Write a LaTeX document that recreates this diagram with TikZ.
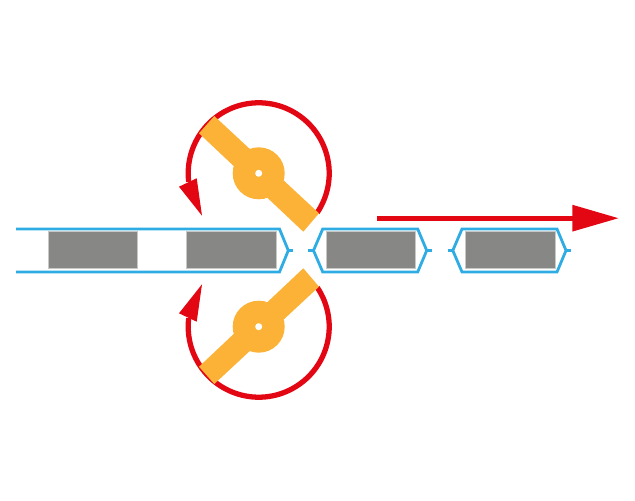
\documentclass[tikz,border=0pt]{standalone}
\usetikzlibrary{arrows.meta}

\definecolor{foilblue}{RGB}{47,172,227}
\definecolor{rollred}{RGB}{227,6,19}
\definecolor{bladeorange}{RGB}{251,178,54}
\definecolor{slugfill}{RGB}{135,135,133}
\definecolor{slugedge}{RGB}{200,200,198}

\tikzset{
  foil/.style={draw=foilblue,line width=1.6pt,line join=miter},
  slug/.style={fill=slugfill,draw=slugedge,line width=0.4pt},
  spin/.style={draw=rollred,line width=3pt},
  feed/.style={draw=rollred,line width=3pt,-{Triangle[length=26.6pt,width=14.4pt,fill=rollred]}}
}

\newcommand{\rotor}{%
  \draw[spin] (0,0) ++(-34:70.5) arc[start angle=-34,end angle=187,radius=70.5];
  \fill[rollred] (-79.7,-13.4) -- (-62,-5) -- (-56.7,-42.4) -- cycle;
  \fill[bladeorange] (-44.4,57.3) -- (-59.7,40) -- (44.6,-58.4) -- (60.3,-40) -- cycle;
  \fill[bladeorange] (0,0) circle (26);
  \fill[white] (0,0) circle (3.5);
}

\begin{document}
\begin{tikzpicture}[x=0.02cm,y=0.02cm]
\useasboundingbox (0,0) rectangle (635,500);

% products in the tube
\foreach \x in {48,186.5,326,465.7}
  \draw[slug] (\x,231.7) rectangle ++(89.5,36.5);

% tube, still closed on the left
\draw[foil] (16,271) -- (279.5,271) -- (288.3,249.5) -- (279.5,228) -- (16,228);
\draw[foil] (288.3,249.5) -- (293.3,249.5);

% sealed packs
\foreach \x in {0,139.3} {
  \draw[foil] (\x+313.5,249.5) -- (\x+322.7,271) -- (\x+417.7,271) -- (\x+426.7,249.5)
              -- (\x+417.7,228) -- (\x+322.7,228) -- cycle;
  \draw[foil] (\x+308.3,249.5) -- (\x+313.5,249.5);
  \draw[foil] (\x+426.7,249.5) -- (\x+432,249.5);
}

% upper and lower jaw
\begin{scope}[shift={(258.7,326.7)}]
  \rotor
\end{scope}
\begin{scope}[shift={(258.7,173.3)},yscale=-1]
  \rotor
\end{scope}

\coordinate (feedstart) at (377,281.8);
\coordinate (feedend) at (619,281.8);
\draw[feed] (feedstart) -- (feedend);
\end{tikzpicture}
\end{document}
